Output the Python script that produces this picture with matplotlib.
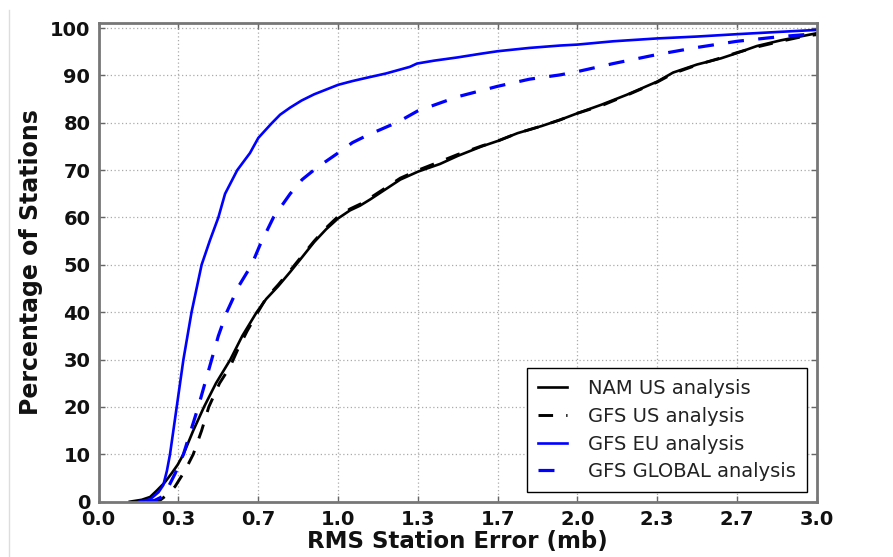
import matplotlib
matplotlib.use("Agg")
import matplotlib.pyplot as plt
from matplotlib.lines import Line2D
import numpy as np

# ---- data ----
nam_us_x = [0.13, 0.18, 0.215, 0.242, 0.275, 0.305, 0.33, 0.354, 0.395, 0.44, 0.49, 0.55, 0.60,
            0.66, 0.70, 0.75, 0.80, 0.848, 0.90, 0.95, 1.0, 1.05, 1.092, 1.134, 1.2, 1.26,
            1.335, 1.426, 1.5, 1.6, 1.67, 1.75, 1.85, 1.927, 2.0, 2.1, 2.206, 2.27, 2.334,
            2.4, 2.5, 2.6, 2.666, 2.75, 2.85, 2.95, 3.0]
nam_us_y = [0.0, 0.4, 1.0, 2.3, 4.0, 6.0, 7.8, 10.0, 15.0, 20.0, 25.0, 30.0, 35.0,
            40.0, 42.8, 45.5, 48.5, 51.5, 54.8, 57.5, 59.8, 61.5, 62.5, 63.8, 66.0, 68.0,
            69.7, 71.3, 73.0, 75.0, 76.2, 77.8, 79.3, 80.6, 82.0, 83.8, 85.9, 87.3, 88.7,
            90.6, 92.3, 93.6, 94.7, 96.2, 97.4, 98.4, 98.9]

gfs_us_x = [0.22, 0.256, 0.29, 0.319, 0.36, 0.395, 0.43, 0.46, 0.505, 0.549, 0.58, 0.62,
            0.665, 0.70, 0.75, 0.80, 0.848, 0.90, 0.95, 1.0, 1.05, 1.1, 1.2, 1.26, 1.335, 1.426,
            1.5, 1.6, 1.67, 1.75, 1.85, 1.927, 2.0, 2.1, 2.206, 2.27, 2.334, 2.4, 2.5,
            2.6, 2.666, 2.75, 2.85, 2.95, 3.0]
gfs_us_y = [0.0, 0.3, 1.6, 3.2, 6.5, 10.0, 15.0, 20.0, 25.0, 28.5, 32.0, 36.0,
            40.0, 43.0, 45.8, 48.8, 51.8, 55.0, 57.8, 60.2, 61.8, 63.0, 66.3, 68.3, 70.0, 71.8,
            73.3, 75.1, 76.2, 77.8, 79.3, 80.6, 82.0, 83.6, 85.8, 87.2, 88.6, 90.4, 92.2,
            93.7, 94.8, 96.0, 97.2, 98.3, 98.6]

gfs_eu_x = [0.17, 0.215, 0.25, 0.27, 0.285, 0.298, 0.326, 0.354, 0.388, 0.43, 0.465, 0.5,
            0.528, 0.579, 0.632, 0.667, 0.723, 0.758, 0.80, 0.848, 0.9, 0.95, 1.0, 1.06,
            1.12, 1.2, 1.30, 1.33, 1.4, 1.5, 1.6, 1.667, 1.8, 1.927, 2.0, 2.15, 2.333,
            2.5, 2.667, 2.85, 3.0]
gfs_eu_y = [0.0, 0.5, 2.0, 3.5, 6.5, 10.0, 20.0, 30.0, 40.0, 50.0, 55.2, 60.0,
            65.0, 70.0, 73.6, 76.8, 79.9, 81.7, 83.2, 84.7, 86.0, 87.0, 88.0, 88.8,
            89.5, 90.4, 91.8, 92.5, 93.1, 93.8, 94.6, 95.1, 95.8, 96.3, 96.5, 97.2, 97.8,
            98.2, 98.7, 99.2, 99.6]

gfs_global_x = [0.20, 0.235, 0.263, 0.29, 0.32, 0.354, 0.385, 0.416, 0.444, 0.472, 0.50,
                0.535, 0.585, 0.639, 0.674, 0.73, 0.80, 0.85, 0.911, 0.994, 1.06, 1.12,
                1.252, 1.333, 1.5, 1.667, 1.8, 1.927, 2.0, 2.15, 2.333, 2.5, 2.667, 2.85, 3.0]
gfs_global_y = [0.0, 0.3, 1.0, 3.0, 6.0, 10.0, 15.0, 20.0, 25.0, 30.0, 35.0,
                40.0, 45.5, 50.0, 54.2, 60.0, 65.0, 68.0, 70.5, 73.4, 75.8, 77.3,
                80.2, 82.5, 85.5, 87.7, 89.2, 90.1, 90.8, 92.5, 94.4, 95.9, 97.2, 98.2, 98.8]

labels = ["NAM US analysis", "GFS US analysis", "GFS EU analysis", "GFS GLOBAL analysis"]
xticks = np.linspace(0.0, 3.0, 10)
yticks = list(range(0, 101, 10))

# ---- figure ----
fig = plt.figure(figsize=(8.93, 5.57), dpi=100)
ax = fig.add_axes([0.1105, 0.0993, 0.9146 - 0.1105, 0.9582 - 0.0993])

ax.plot(nam_us_x, nam_us_y, color="black", lw=1.9, label=labels[0])
ax.plot(gfs_us_x, gfs_us_y, color="black", lw=2.1, dashes=(5, 4.5), label=labels[1])
ax.plot(gfs_eu_x, gfs_eu_y, color="#0000ff", lw=1.9, label=labels[2])
ax.plot(gfs_global_x, gfs_global_y, color="#0000ff", lw=2.3, dashes=(5, 4.5), label=labels[3])

ax.set_xlim(0, 3.0)
ax.set_ylim(0, 101)
ax.set_xticks(xticks)
ax.set_xticklabels(["%.1f" % v for v in xticks])
ax.set_yticks(yticks)
ax.set_yticklabels([str(v) for v in yticks])

for lab in ax.get_xticklabels() + ax.get_yticklabels():
    lab.set_fontweight("bold")
    lab.set_fontsize(14)
    lab.set_color("#111111")

ax.tick_params(direction="in", top=True, right=True, length=4, width=1, color="#666666", pad=6)
ax.grid(True, linestyle=(0, (1, 2)), color="#aaaaaa", lw=0.9)

for s in ax.spines.values():
    s.set_color("#777777")
    s.set_linewidth(2.0)

ax.set_xlabel("RMS Station Error (mb)", fontsize=16.5, fontweight="bold", labelpad=1, color="#111111")
ax.set_ylabel("Percentage of Stations", fontsize=17, fontweight="bold", labelpad=5, color="#111111")

leg = ax.legend(loc="lower right", fontsize=14, fancybox=False, framealpha=1.0,
                edgecolor="black", handlelength=1.5, borderaxespad=0.5, labelspacing=0.45,
                handletextpad=1.1, borderpad=0.55)
leg.get_frame().set_linewidth(1.0)
for t in leg.get_texts():
    t.set_color("#222222")

# faint border line on the left, as in the screenshot
fig.add_artist(Line2D([8.5 / 893, 8.5 / 893], [0, 1 - 10 / 557], transform=fig.transFigure,
                      color="#dddddd", lw=1.0))

fig.savefig("out.png", dpi=100)
